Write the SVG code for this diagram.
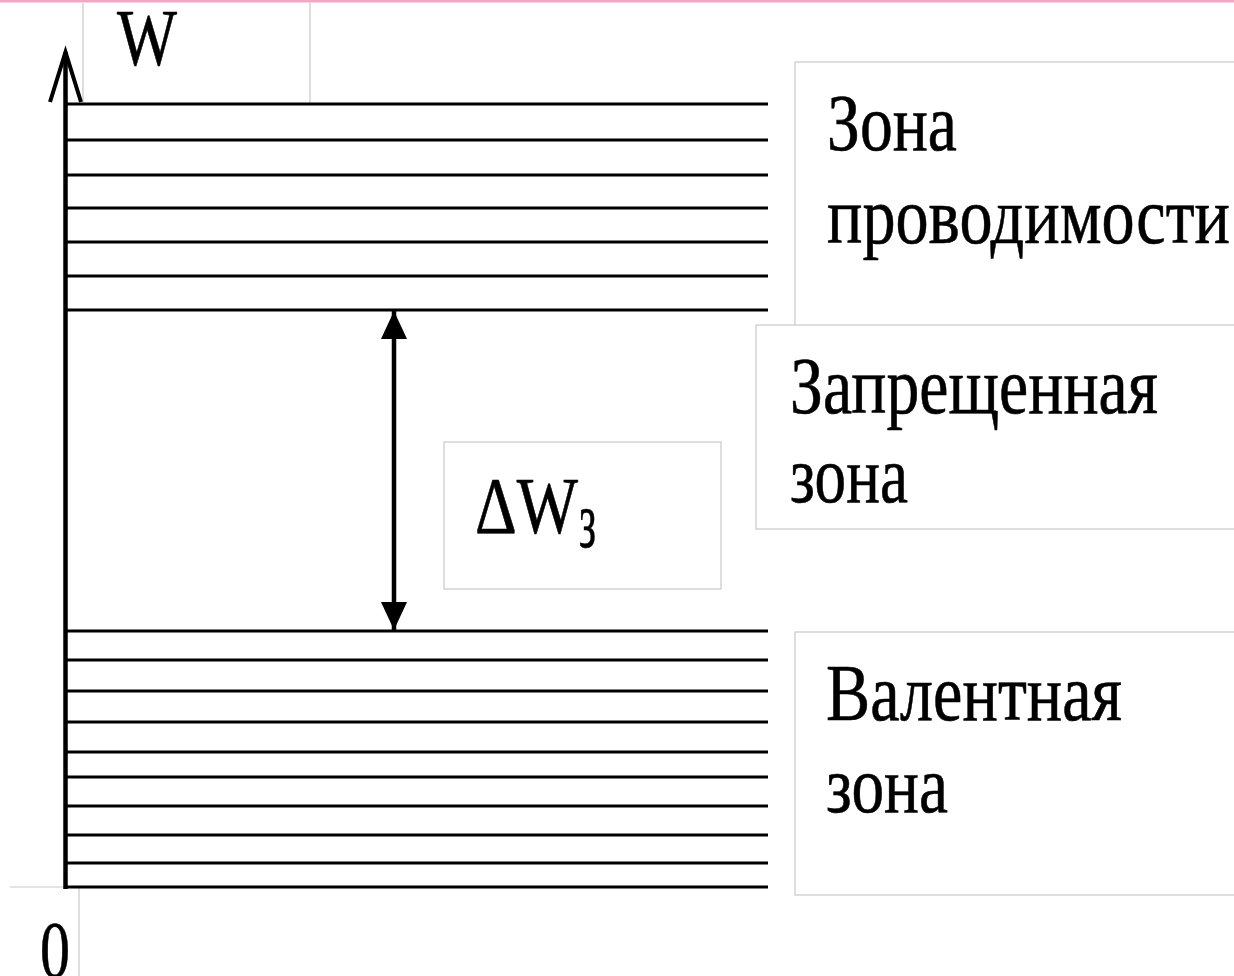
<svg xmlns="http://www.w3.org/2000/svg" width="1234" height="976" viewBox="0 0 1234 976">
  <style>
    .lvl { stroke: #000; stroke-width: 3; }
    .box { fill: #fff; stroke: #c8c8c8; stroke-width: 1.2; }
    .lbl { font-family: "Liberation Serif", "Times New Roman", serif; font-size: 80px; fill: #000; stroke: #000; stroke-width: 0.6; }
  </style>
  <defs>
    <marker id="head" viewBox="0 0 28 26" refX="28" refY="13" markerWidth="28" markerHeight="26" markerUnits="userSpaceOnUse" orient="auto-start-reverse">
      <path d="M0,0 L28,13 L0,26 Z" fill="#000"/>
    </marker>
  </defs>

  <rect width="1234" height="976" fill="#fff"/>
  <!-- top accent rule -->
  <rect x="0" y="0" width="1234" height="2.5" fill="#f4a6c4"/>

  <!-- label frames -->
  <g id="label-w">
    <path d="M83,3 V103 M310,3 V103" class="box" fill="none"/>
    <text class="lbl" x="117" y="65" textLength="60" lengthAdjust="spacingAndGlyphs">W</text>
  </g>
  <g id="label-zero">
    <path d="M10,887 H79 V976" fill="none" stroke="#c8c8c8" stroke-width="1.2"/>
    <text class="lbl" x="40" y="977" textLength="30" lengthAdjust="spacingAndGlyphs">0</text>
  </g>
  <g id="label-conduction">
    <rect class="box" x="795" y="62" width="460" height="280"/>
    <text class="lbl" x="827" y="150" textLength="130" lengthAdjust="spacingAndGlyphs">Зона</text>
    <text class="lbl" x="827" y="243" textLength="403" lengthAdjust="spacingAndGlyphs">проводимости</text>
  </g>
  <g id="label-gap">
    <rect class="box" x="756" y="325" width="500" height="204"/>
    <text class="lbl" x="790" y="413" textLength="368" lengthAdjust="spacingAndGlyphs">Запрещенная</text>
    <text class="lbl" x="790" y="502" textLength="118" lengthAdjust="spacingAndGlyphs">зона</text>
  </g>
  <g id="label-valence">
    <rect class="box" x="795" y="632" width="460" height="263"/>
    <text class="lbl" x="826" y="720" textLength="296" lengthAdjust="spacingAndGlyphs">Валентная</text>
    <text class="lbl" x="826" y="812" textLength="122" lengthAdjust="spacingAndGlyphs">зона</text>
  </g>
  <g id="label-dw">
    <rect class="box" x="444" y="442" width="277" height="147"/>
    <text class="lbl" x="475" y="533" textLength="103" lengthAdjust="spacingAndGlyphs">ΔW</text>
    <text class="lbl" x="579" y="547" font-size="54" stroke-width="0.4" textLength="17" lengthAdjust="spacingAndGlyphs">з</text>
  </g>

  <!-- energy levels -->
  <g id="conduction-band">
    <line class="lvl" x1="65" y1="104" x2="768" y2="104"/>
    <line class="lvl" x1="65" y1="140" x2="768" y2="140"/>
    <line class="lvl" x1="65" y1="175" x2="768" y2="175"/>
    <line class="lvl" x1="65" y1="208" x2="768" y2="208"/>
    <line class="lvl" x1="65" y1="242" x2="768" y2="242"/>
    <line class="lvl" x1="65" y1="276" x2="768" y2="276"/>
    <line class="lvl" x1="65" y1="310" x2="768" y2="310"/>
  </g>
  <g id="valence-band">
    <line class="lvl" x1="65" y1="631" x2="768" y2="631"/>
    <line class="lvl" x1="65" y1="660" x2="768" y2="660"/>
    <line class="lvl" x1="65" y1="691" x2="768" y2="691"/>
    <line class="lvl" x1="65" y1="722" x2="768" y2="722"/>
    <line class="lvl" x1="65" y1="752" x2="768" y2="752"/>
    <line class="lvl" x1="65" y1="777" x2="768" y2="777"/>
    <line class="lvl" x1="65" y1="806" x2="768" y2="806"/>
    <line class="lvl" x1="65" y1="835" x2="768" y2="835"/>
    <line class="lvl" x1="65" y1="863" x2="768" y2="863"/>
    <line class="lvl" x1="65" y1="887" x2="768" y2="887"/>
  </g>

  <!-- energy axis -->
  <g id="axis">
    <line x1="65.5" y1="889" x2="65.5" y2="52" stroke="#000" stroke-width="4.5"/>
    <polyline points="50,102 65.5,52 81,102" fill="none" stroke="#000" stroke-width="4"/>
  </g>

  <!-- connectors -->
  <g id="connectors">
    <line x1="394" y1="311" x2="394" y2="630" stroke="#000" stroke-width="4.5" marker-start="url(#head)" marker-end="url(#head)"/>
  </g>
</svg>
